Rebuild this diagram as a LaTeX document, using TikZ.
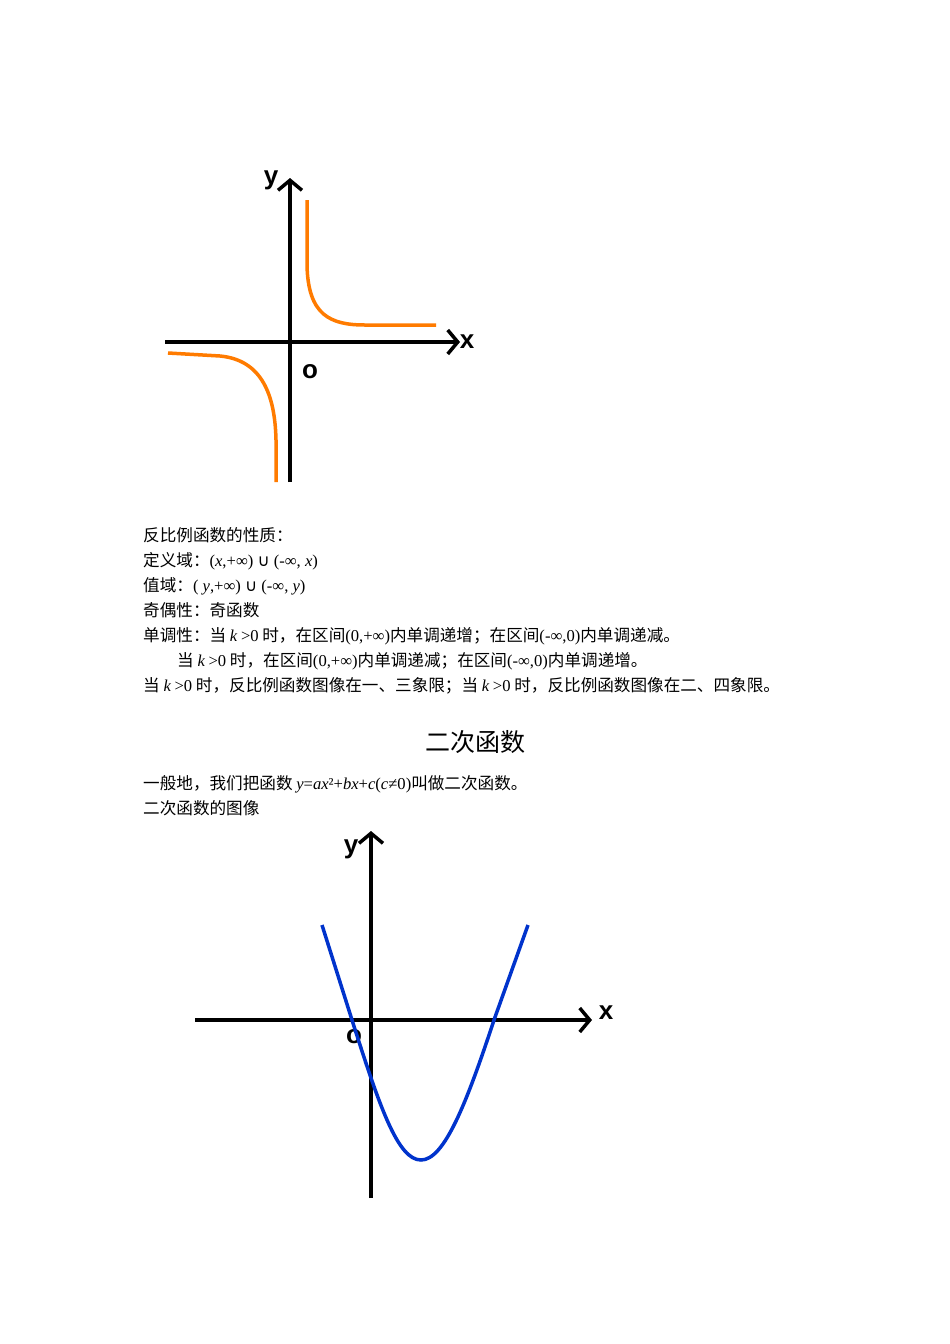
\documentclass[tikz,border=0pt]{standalone}
\usepackage{fontspec}
\setmainfont{Noto Sans CJK SC}
\newfontfamily\rmf{Liberation Serif}
\newfontfamily\djv{DejaVu Sans}
\newfontfamily\lsans{Liberation Sans}
\usetikzlibrary{arrows.meta}
\newcommand{\mi}[1]{{\rmf\itshape #1}}
\newcommand{\mr}[1]{{\rmf #1}}
\begin{document}
\begin{tikzpicture}[x=1pt,y=-1pt,
  txt/.style={anchor=base west,inner sep=0pt,font=\fontsize{16.6}{16.6}\selectfont},
  ax/.style={line width=3.5pt,black},
  tip/.style={-{Straight Barb[length=10pt,width=24pt,line width=3.5pt]}},
  lab/.style={font=\fontsize{26}{26}\selectfont\lsans\bfseries,inner sep=0pt}]
\useasboundingbox[fill=white] (0,0) rectangle (950,1344);
% graph 1
\coordinate (y1a) at (290,482); \coordinate (y1b) at (290,178);
\coordinate (x1a) at (165,342); \coordinate (x1b) at (460,342);
\draw[ax,tip] (y1a) -- (y1b);
\draw[ax,tip] (x1a) -- (x1b);
\node[lab] (ly1) at (271,180) {y};
\node[lab] (lx1) at (467,342) {x};
\node[lab] (lo1) at (310,372) {o};
\draw[orange!85!red!90!yellow,line width=3.5pt] (307,200) -- (307,265) .. controls (308,315) and (330,325) .. (365,325) -- (436,325);
\draw[orange!85!red!90!yellow,line width=3.5pt] (168,353) -- (220,356) .. controls (262,360) and (275,395) .. (276,440) -- (276,482);
% text
\node[txt] (t1) at (143,541) {反比例函数的性质：};
\node[txt] (t2) at (143,566) {定义域：\mr{(}\mi{x}\mr{,+∞) }{\djv ∪}\mr{ (-∞, }\mi{x}\mr{)}};
\node[txt] (t3) at (143,591) {值域：\mr{( }\mi{y}\mr{,+∞) }{\djv ∪}\mr{ (-∞, }\mi{y}\mr{)}};
\node[txt] (t4) at (143,616) {奇偶性：奇函数};
\node[txt] (t5) at (143,641) {单调性：当 \mi{k} \mr{>0} 时，在区间\mr{(0,+∞)}内单调递增；在区间\mr{(-∞,0)}内单调递减。};
\node[txt] (t6) at (177,666) {当 \mi{k} \mr{>0} 时，在区间\mr{(0,+∞)}内单调递减；在区间\mr{(-∞,0)}内单调递增。};
\node[txt] (t7) at (143,691) {当 \mi{k} \mr{>0} 时，反比例函数图像在一、三象限；当 \mi{k} \mr{>0} 时，反比例函数图像在二、四象限。};
\node[inner sep=0pt,font=\fontsize{25}{25}\selectfont,anchor=base] (title) at (475,751) {二次函数};
\node[txt] (t8) at (143,789) {一般地，我们把函数 \mi{y}\mr{=}\mi{ax}\mr{²+}\mi{bx}\mr{+}\mi{c}\mr{(}\mi{c}\mr{≠0)}叫做二次函数。};
\node[txt] (t9) at (143,814) {二次函数的图像};
% graph 2
\coordinate (y2a) at (371,1198); \coordinate (y2b) at (371,831);
\coordinate (x2a) at (195,1020); \coordinate (x2b) at (592,1020);
\draw[ax,tip] (y2a) -- (y2b);
\draw[ax,tip] (x2a) -- (x2b);
\node[lab] (ly2) at (351,849) {y};
\node[lab] (lx2) at (606,1013) {x};
\node[lab] (lo2) at (354,1037) {o};
\draw[blue!75!black!80!cyan,line width=3.5pt] (322,925) -- (352,1020) .. controls (380,1108) and (398,1160) .. (421,1160) .. controls (444,1160) and (466,1105) .. (494,1020) -- (528,925);
\end{tikzpicture}
\end{document}
